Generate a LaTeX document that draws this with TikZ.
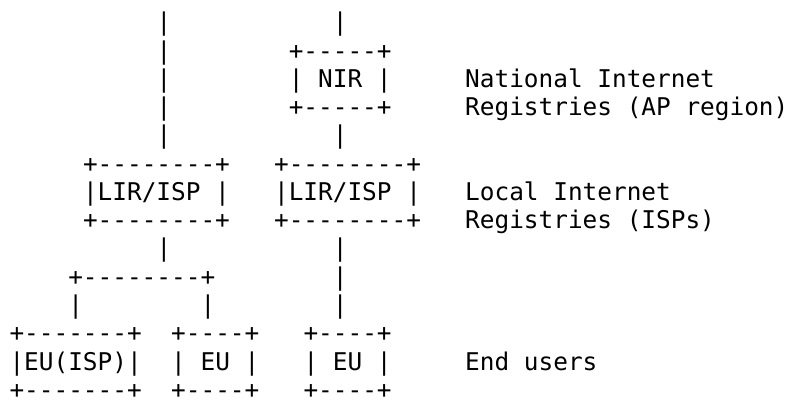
\documentclass[tikz,border=0pt]{standalone}
\usepackage{fontspec}
\newfontfamily\asciifont{DejaVu Sans Mono}[Ligatures=TeXOff]
\newcommand\cell[4]{\node[ascii] (#1) at ({9.5+14.7*#2},{368.24-28.27*#3}) {#4};}
\tikzset{ascii/.style={anchor=base west, inner sep=0pt, outer sep=0pt,
  font=\asciifont\fontsize{24.4}{28}\selectfont, text=black}}
\begin{document}
\begin{tikzpicture}[x=1pt,y=1pt]
\useasboundingbox (0,0) rectangle (789,399);
% row 0
\cell{la0}{10}{0}{|}
\cell{ra0}{22}{0}{|}
% row 1
\cell{la1}{10}{1}{|}
\cell{nirtop}{19}{1}{+-----+}
% row 2
\cell{la2}{10}{2}{|}
\cell{nir}{19}{2}{|~NIR~|}
\cell{lblnat1}{31}{2}{National~Internet}
% row 3
\cell{la3}{10}{3}{|}
\cell{nirbot}{19}{3}{+-----+}
\cell{lblnat2}{31}{3}{Registries~(AP~region)}
% row 4
\cell{la4}{10}{4}{|}
\cell{ra4}{22}{4}{|}
% row 5
\cell{lirAtop}{5}{5}{+--------+}
\cell{lirBtop}{18}{5}{+--------+}
% row 6
\cell{lirA}{5}{6}{|LIR/ISP~|}
\cell{lirB}{18}{6}{|LIR/ISP~|}
\cell{lbllir1}{31}{6}{Local~Internet}
% row 7
\cell{lirAbot}{5}{7}{+--------+}
\cell{lirBbot}{18}{7}{+--------+}
\cell{lbllir2}{31}{7}{Registries~(ISPs)}
% row 8
\cell{la8}{10}{8}{|}
\cell{ra8}{22}{8}{|}
% row 9
\cell{split}{4}{9}{+--------+}
\cell{ra9}{22}{9}{|}
% row 10
\cell{sl10}{4}{10}{|}
\cell{sr10}{13}{10}{|}
\cell{ra10}{22}{10}{|}
% row 11
\cell{euAtop}{0}{11}{+-------+}
\cell{euBtop}{11}{11}{+----+}
\cell{euCtop}{20}{11}{+----+}
% row 12
\cell{euA}{0}{12}{|EU(ISP)|}
\cell{euB}{11}{12}{|~EU~|}
\cell{euC}{20}{12}{|~EU~|}
\cell{lbleu}{31}{12}{End~users}
% row 13
\cell{euAbot}{0}{13}{+-------+}
\cell{euBbot}{11}{13}{+----+}
\cell{euCbot}{20}{13}{+----+}
\end{tikzpicture}
\end{document}
